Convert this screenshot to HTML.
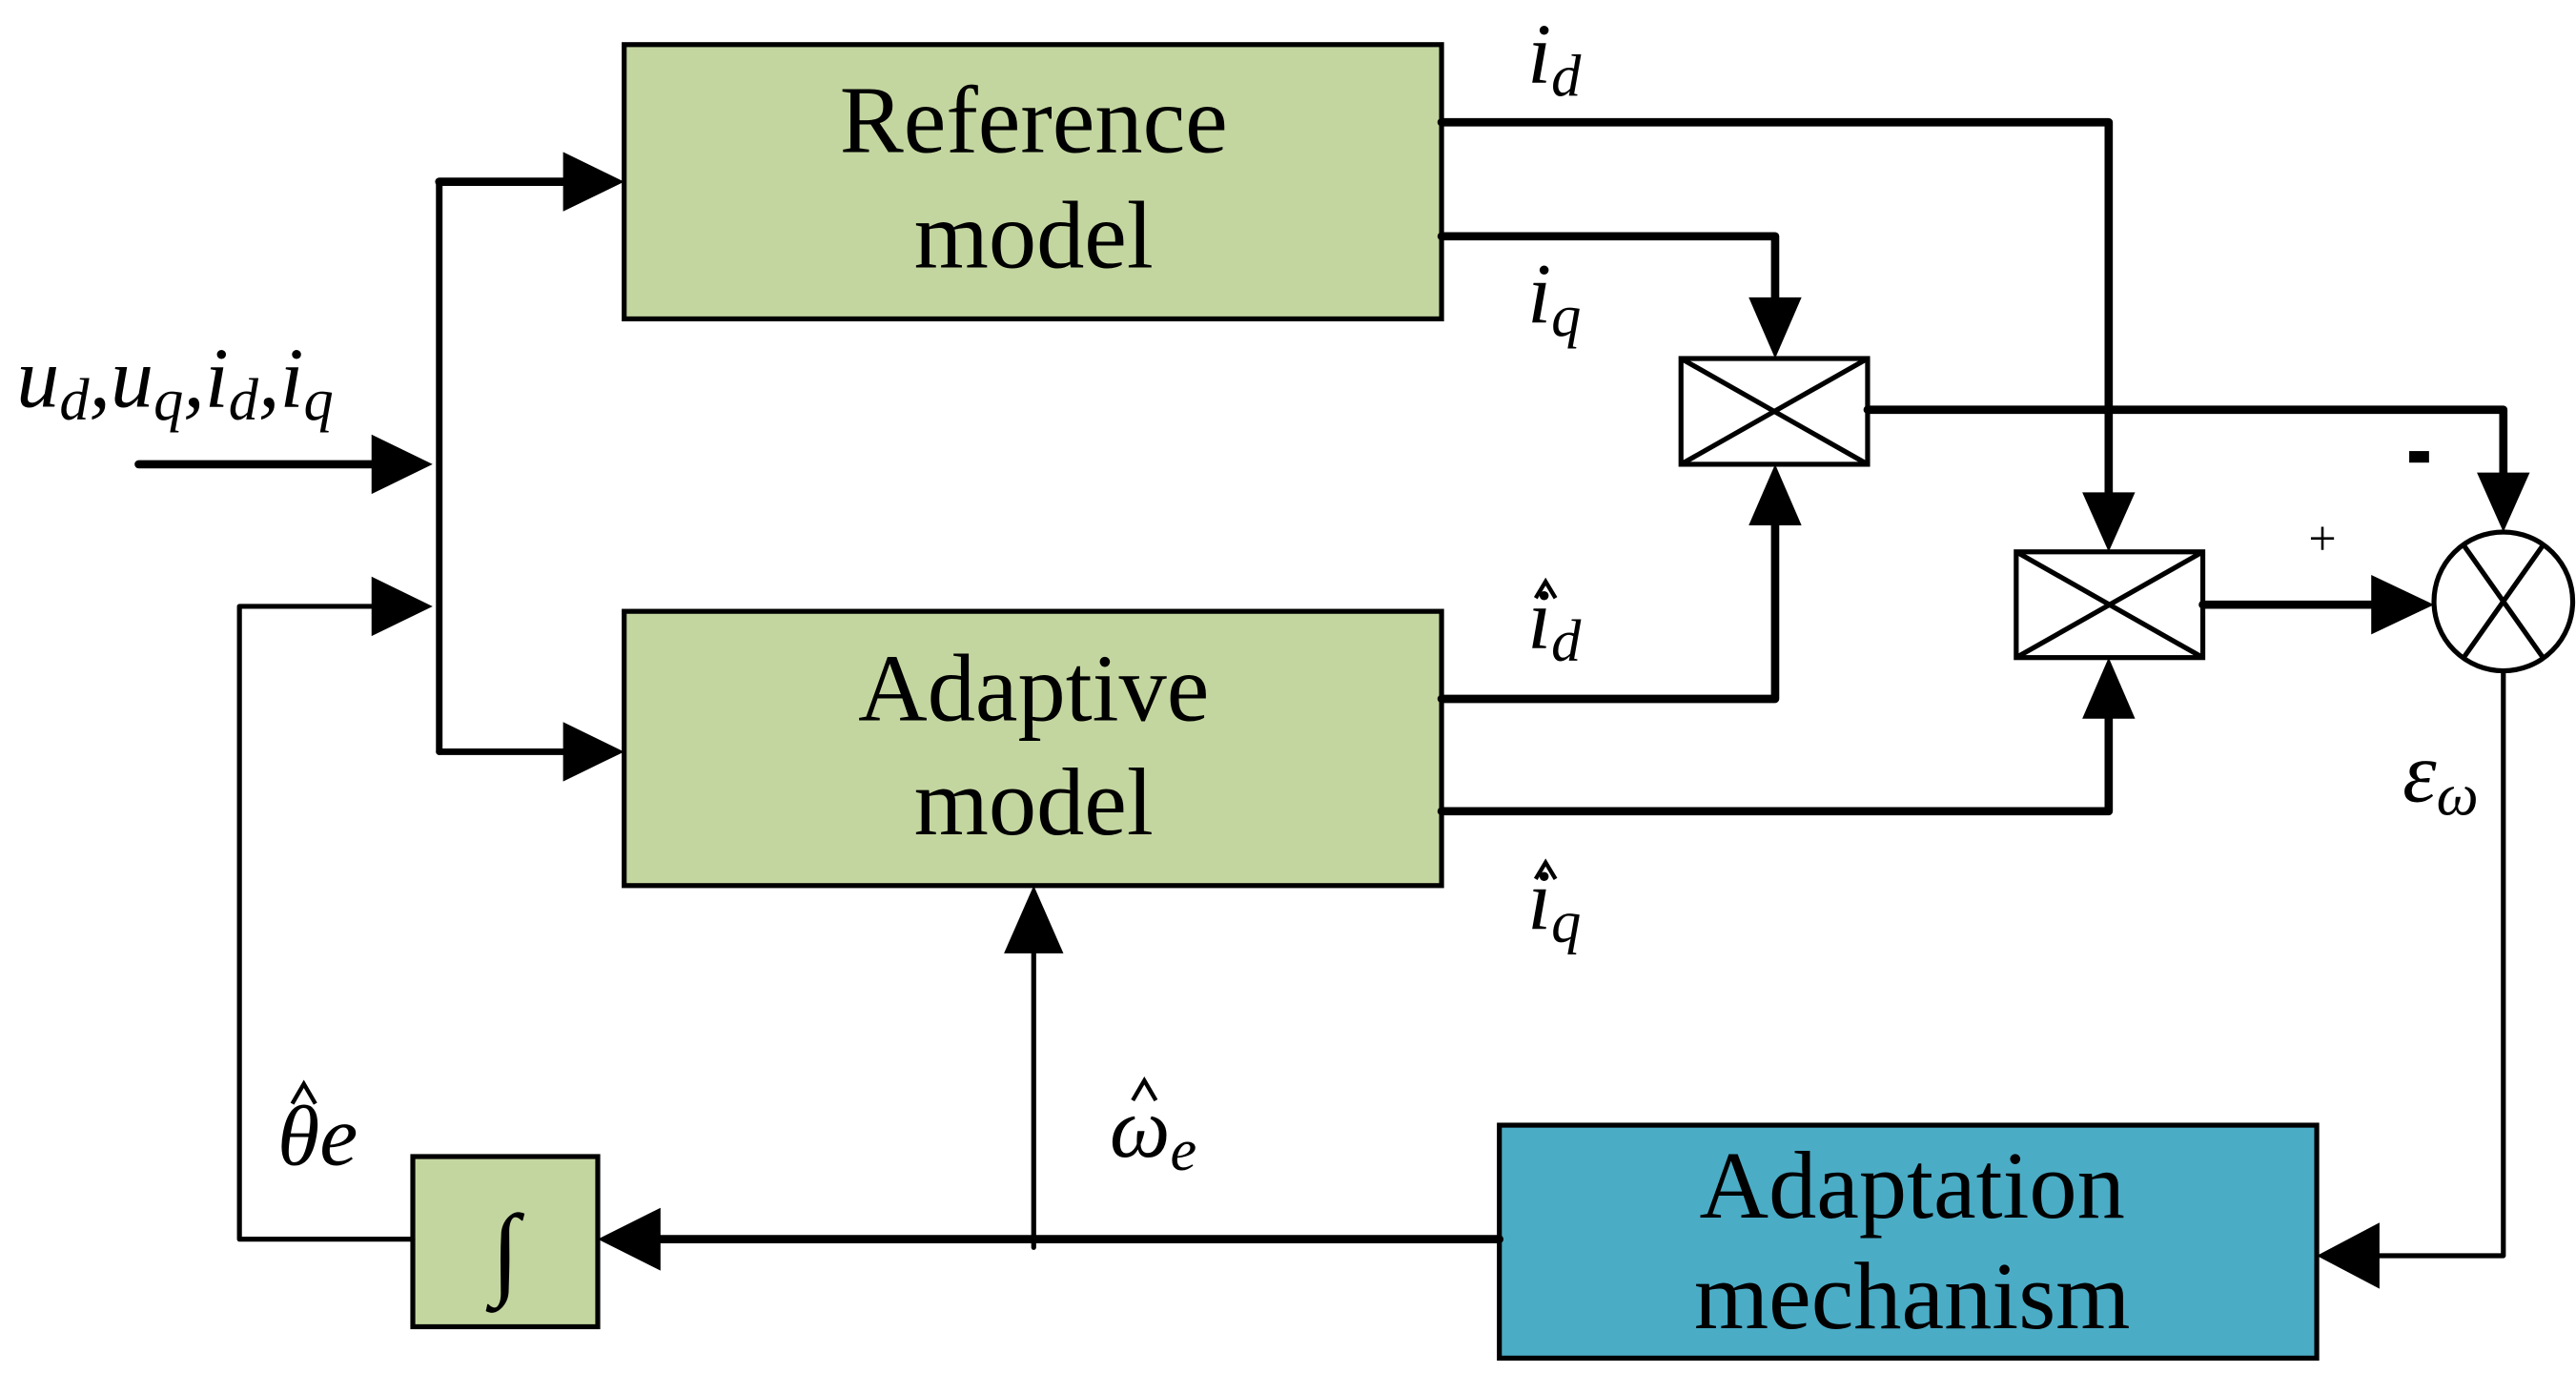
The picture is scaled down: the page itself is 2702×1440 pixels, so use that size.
<!DOCTYPE html>
<html><head><meta charset="utf-8"><style>
html,body{margin:0;padding:0;background:#fff;}
svg{display:block;}
text{font-family:"Liberation Serif",serif;fill:#000;}
.it{font-style:italic;}
</style></head><body>
<svg width="2702" height="1440" viewBox="0 0 1560 831" preserveAspectRatio="none" xmlns="http://www.w3.org/2000/svg">
<g stroke="#000" stroke-width="3">
<rect x="378" y="27" width="495" height="166" fill="#c4d6a0"/>
<rect x="378" y="370" width="495" height="166" fill="#c4d6a0"/>
<rect x="250" y="700" width="112" height="103" fill="#c4d6a0"/>
<rect x="908" y="681" width="495" height="141" fill="#4bacc6"/>
<rect x="1018" y="217" width="113" height="64" fill="#fff"/>
<line x1="1018" y1="217" x2="1131" y2="281"/><line x1="1131" y1="217" x2="1018" y2="281"/>
<rect x="1221" y="334" width="113" height="64" fill="#fff"/>
<line x1="1221" y1="334" x2="1334" y2="398"/><line x1="1334" y1="334" x2="1221" y2="398"/>
<ellipse cx="1516" cy="364" rx="42" ry="42" fill="#fff"/>
<line x1="1492" y1="330" x2="1540" y2="398"/><line x1="1540" y1="330" x2="1492" y2="398"/>
</g>
<g stroke="#000" fill="none" stroke-linecap="round" stroke-linejoin="round">
<polyline stroke-width="5" points="84,281 240,281"/>
<polyline stroke-width="4" points="266,110 266,455"/>
<polyline stroke-width="5" points="266,110 350,110"/>
<polyline stroke-width="4" points="266,455 350,455"/>
<polyline stroke-width="3" points="250,750 145,750 145,367 235,367"/>
<polyline stroke-width="5" points="873,74 1277,74 1277,305"/>
<polyline stroke-width="5" points="873,143 1075,143 1075,190"/>
<polyline stroke-width="5" points="1131,248 1516,248 1516,295"/>
<polyline stroke-width="5" points="873,423 1075,423 1075,310"/>
<polyline stroke-width="5" points="873,491 1277,491 1277,425"/>
<polyline stroke-width="5" points="1334,366 1445,366"/>
<polyline stroke-width="3" points="1516,406 1516,760 1430,760"/>
<polyline stroke-width="5" points="908,750 390,750"/>
<polyline stroke-width="3" points="626,755 626,570"/>
</g>
<g fill="#000">
<polygon points="262,281 225,263 225,299"/>
<polygon points="378,110 341,92 341,128"/>
<polygon points="378,455 341,437 341,473"/>
<polygon points="262,367 225,349 225,385"/>
<polygon points="1277,334 1261,298 1293,298"/>
<polygon points="1075,217 1059,180 1091,180"/>
<polygon points="1516,322 1500,286 1532,286"/>
<polygon points="1075,281 1059,318 1091,318"/>
<polygon points="1277,398 1261,435 1293,435"/>
<polygon points="1474,366 1436,348 1436,384"/>
<polygon points="1403,760 1441,740 1441,780"/>
<polygon points="362,750 400,731 400,769"/>
<polygon points="626,536 608,577 644,577"/>
<rect x="1459" y="273" width="12" height="7"/>
</g>
<g font-size="58" text-anchor="middle">
<text x="626" y="92">Reference</text>
<text x="626" y="162">model</text>
<text x="626" y="436">Adaptive</text>
<text x="626" y="505">model</text>
<text x="1158" y="737">Adaptation</text>
<text x="1158" y="804">mechanism</text>
<text x="306" y="778" font-size="62" class="it">∫</text>
</g>
<text x="1398" y="336" font-size="30">+</text>
<g font-size="52" class="it">
<text x="10" y="246">u<tspan font-size="36" dy="8">d</tspan><tspan dy="-8">,u</tspan><tspan font-size="36" dy="8">q</tspan><tspan dy="-8">,i</tspan><tspan font-size="36" dy="8">d</tspan><tspan dy="-8">,i</tspan><tspan font-size="36" dy="8">q</tspan></text>
<text x="925" y="50">i<tspan font-size="36" dy="8">d</tspan></text>
<text x="925" y="195">i<tspan font-size="36" dy="8">q</tspan></text>
<text x="925" y="392">i<tspan font-size="36" dy="8">d</tspan></text>
<text x="925" y="562">i<tspan font-size="36" dy="8">q</tspan></text>
<text x="1455" y="485">ε<tspan font-size="36" dy="8">ω</tspan></text>
<text x="168" y="705">θe</text>
<text x="672" y="700">ω<tspan font-size="36" dy="8">e</tspan></text>
</g>
<g fill="none" stroke="#000" stroke-width="2.5">
<polyline points="930,362 936,352 942,362"/>
<polyline points="930,532 936,522 942,532"/>
<polyline points="177,668 184,656 191,668"/>
<polyline points="686,666 693,654 700,666"/>
</g>
</svg>
</body></html>
